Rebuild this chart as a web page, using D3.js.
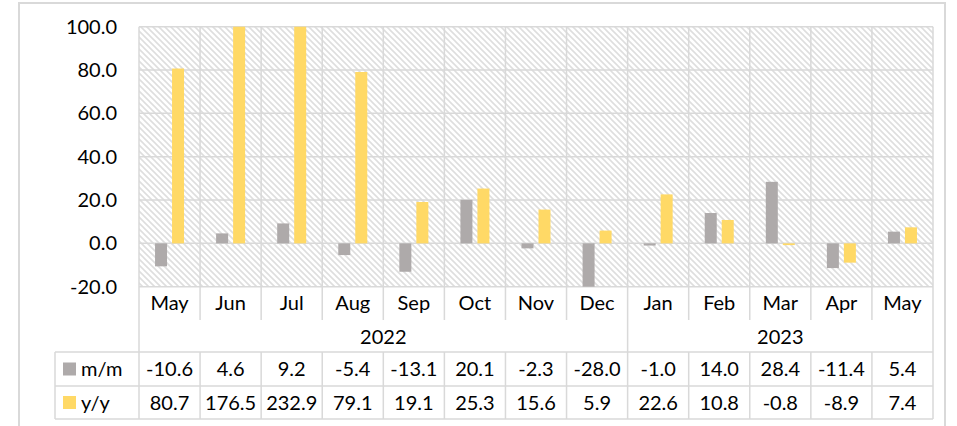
<!DOCTYPE html>
<html>
<head>
<meta charset="utf-8">
<script src="https://cdn.jsdelivr.net/npm/d3@7"></script>
<style>
    body { margin: 0; background: #fff; }
    text { font-family: "Lato", "Liberation Sans", sans-serif; font-size: 20px; fill: #000; }
</style>
</head>
<body>
<svg id="chart"></svg>
<script>
// Data
var months = ["May", "Jun", "Jul", "Aug", "Sep", "Oct", "Nov", "Dec", "Jan", "Feb", "Mar", "Apr", "May"]
var years = [{ label: "2022", count: 8 }, { label: "2023", count: 5 }]
var mm = [-10.6, 4.6, 9.2, -5.4, -13.1, 20.1, -2.3, -28.0, -1.0, 14.0, 28.4, -11.4, 5.4]
var yy = [80.7, 176.5, 232.9, 79.1, 19.1, 25.3, 15.6, 5.9, 22.6, 10.8, -0.8, -8.9, 7.4]
var seriesNames = ["m/m", "y/y"]
var yTicks = [-20, 0, 20, 40, 60, 80, 100]

var width = 957, height = 426
var colors = { "m/m": "#AEAAAA", "y/y": "#FFD966" }
var lineColor = "#D9D9D9"
var fmt = (v) => v.toFixed(1)

var svg = d3.select("#chart")
    .attr("width", width)
    .attr("height", height)

// hatch pattern for the plot background
var defs = svg.append("defs")
defs.append("pattern")
    .attr("id", "hatch")
    .attr("patternUnits", "userSpaceOnUse")
    .attr("width", 6)
    .attr("height", 6)
    .append("path")
    .attr("d", "M0,0L6,6M-1,5L1,7M5,-1L7,1")
    .attr("stroke", "#DEDEDE")
    .attr("stroke-width", 1.6)

// outer chart border
svg.append("rect")
    .attr("x", 19).attr("y", 3)
    .attr("width", 926).attr("height", 440)
    .attr("fill", "none")
    .attr("stroke", lineColor)
    .attr("stroke-width", 2)

var plotLeft = 139, plotRight = 933, plotTop = 26.7, plotBottom = 286.7

var x = d3.scaleBand()
    .domain(d3.range(months.length))
    .range([plotLeft, plotRight])

var bw = x.bandwidth()
var x1 = d3.scaleBand()
    .domain(seriesNames)
    .range([bw / 2 - 14.5, bw / 2 + 14.5])
    .paddingInner(5 / 17)

var y = d3.scaleLinear()
    .domain([-20, 100])
    .range([plotBottom, plotTop])

svg.append("rect")
    .attr("x", plotLeft).attr("y", plotTop)
    .attr("width", plotRight - plotLeft).attr("height", plotBottom - plotTop)
    .attr("fill", "url(#hatch)")

// gridlines
svg.append("g")
    .selectAll("line")
    .data(yTicks)
    .enter()
    .append("line")
    .attr("x1", plotLeft).attr("x2", plotRight)
    .attr("y1", (d) => y(d)).attr("y2", (d) => y(d))
    .attr("stroke", lineColor)
    .attr("stroke-width", 1.5)

svg.append("g")
    .selectAll("line")
    .data(d3.range(months.length + 1))
    .enter()
    .append("line")
    .attr("x1", (i) => plotLeft + i * bw).attr("x2", (i) => plotLeft + i * bw)
    .attr("y1", plotTop)
    .attr("y2", (i) => (i == 0 || i == 8 || i == months.length) ? 352 : 320)
    .attr("stroke", lineColor)
    .attr("stroke-width", 1.5)

// y axis labels
var yAxis = d3.axisLeft(y)
    .tickValues(yTicks)
    .tickFormat(fmt)
    .tickSize(0)
    .tickPadding(0)
var ga = svg.append("g")
    .attr("transform", "translate(117,0)")
    .call(yAxis)
ga.select(".domain").remove()
ga.selectAll("text")
    .attr("font-family", null)
    .attr("font-size", null)
    .style("fill", "#000")

// bars, clipped to the axis range
var clip = (v) => Math.max(-20, Math.min(100, v))
var rows = months.map((m, i) => ({ i: i, "m/m": mm[i], "y/y": yy[i] }))

var groups = svg.append("g")
    .selectAll("g")
    .data(rows)
    .enter()
    .append("g")
    .attr("transform", (d) => "translate(" + x(d.i) + ",0)")

groups.selectAll("rect")
    .data((d) => seriesNames.map((k) => ({ key: k, value: clip(d[k]) })))
    .enter()
    .append("rect")
    .attr("x", (d) => x1(d.key))
    .attr("width", x1.bandwidth())
    .attr("y", (d) => y(Math.max(0, d.value)))
    .attr("height", (d) => Math.max(1, Math.abs(y(d.value) - y(0))))
    .attr("fill", (d) => colors[d.key])

// month labels
svg.append("g")
    .selectAll("text")
    .data(months)
    .enter()
    .append("text")
    .attr("x", (d, i) => x(i) + bw / 2)
    .attr("y", 303)
    .attr("dy", "0.35em")
    .attr("text-anchor", "middle")
    .text((d) => d)

// year labels
var start = 0
years.forEach((yr) => {
    svg.append("text")
        .attr("x", plotLeft + (start + yr.count / 2) * bw)
        .attr("y", 337)
        .attr("dy", "0.35em")
        .attr("text-anchor", "middle")
        .text(yr.label)
    start += yr.count
})

// data table
var tLeft = 55, rowTops = [352, 386, 419]
var table = svg.append("g")

table.selectAll("line.h")
    .data(rowTops)
    .enter()
    .append("line")
    .attr("x1", tLeft).attr("x2", plotRight)
    .attr("y1", (d) => d).attr("y2", (d) => d)
    .attr("stroke", lineColor)
    .attr("stroke-width", 1.5)

table.selectAll("line.v")
    .data([tLeft].concat(d3.range(months.length + 1).map((i) => plotLeft + i * bw)))
    .enter()
    .append("line")
    .attr("x1", (d) => d).attr("x2", (d) => d)
    .attr("y1", rowTops[0]).attr("y2", rowTops[2])
    .attr("stroke", lineColor)
    .attr("stroke-width", 1.5)

var tableData = [mm, yy]
seriesNames.forEach((name, r) => {
    var cy = (rowTops[r] + rowTops[r + 1]) / 2
    table.append("rect")
        .attr("x", 63).attr("y", cy - 6.5)
        .attr("width", 13).attr("height", 13)
        .attr("fill", colors[name])
    table.append("text")
        .attr("x", 81).attr("y", cy)
        .attr("dy", "0.35em")
        .text(name)
    table.selectAll("text.v" + r)
        .data(tableData[r])
        .enter()
        .append("text")
        .attr("x", (d, i) => x(i) + bw / 2)
        .attr("y", cy)
        .attr("dy", "0.35em")
        .attr("text-anchor", "middle")
        .text((d) => fmt(d))
})
</script>
</body>
</html>
